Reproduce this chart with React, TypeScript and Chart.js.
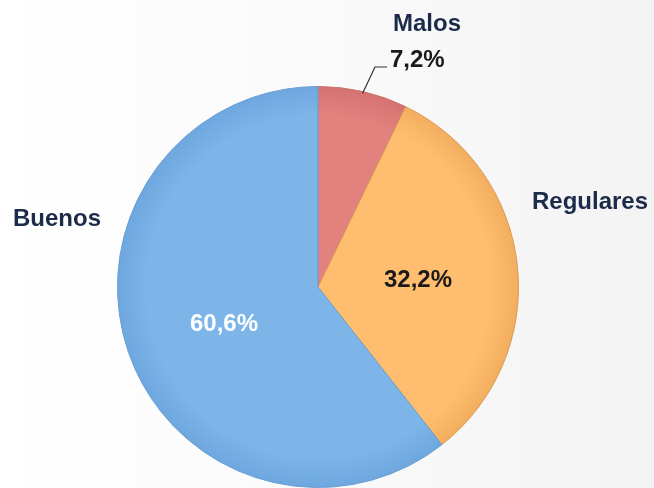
import React, { useEffect, useRef } from "react";
import { Chart, registerables } from "chart.js";

Chart.register(...registerables);

const categories = ["Malos", "Regulares", "Buenos"];
const values = [7.2, 32.2, 60.6];
const valueLabels = ["7,2%", "32,2%", "60,6%"];

const baseColors = ["#E2827F", "#FFBE6F", "#7DB5E9"];
const edgeColors = ["#D47270", "#F2AE5E", "#6EA7DE"];
const borderColors = ["#C9706C", "#D99B55", "#6A9FD3"];

// label layout (pixel offsets from the pie centre), alphabetic baseline
const nameLayout = [
  { dx: 75, dy: -256, align: "left" as CanvasTextAlign },
  { dx: 214, dy: -78, align: "left" as CanvasTextAlign },
  { dx: -305, dy: -61, align: "left" as CanvasTextAlign },
];
const valueLayout = [
  { dx: 72, dy: -220, align: "left" as CanvasTextAlign, color: "#1a1a1a" },
  { dx: 100, dy: 0, align: "center" as CanvasTextAlign, color: "#1a1a1a" },
  { dx: -94, dy: 44, align: "center" as CanvasTextAlign, color: "#ffffff" },
];

const labelPlugin = {
  id: "pieLabels",
  beforeDraw(chart: any) {
    const { ctx, width, height } = chart;
    ctx.save();
    ctx.fillStyle = "#ffffff";
    ctx.fillRect(0, 0, width, height);
    const g = ctx.createLinearGradient(0, 0, width, 0);
    g.addColorStop(0, "rgba(240,240,240,0)");
    g.addColorStop(1, "rgba(235,235,235,0.6)");
    ctx.fillStyle = g;
    ctx.fillRect(0, 0, width, height);
    ctx.restore();
  },
  afterDatasetsDraw(chart: any) {
    const { ctx } = chart;
    const meta = chart.getDatasetMeta(0);
    const arc0 = meta.data[0];
    if (!arc0) return;
    const cx = arc0.x;
    const cy = arc0.y;
    ctx.save();
    ctx.font = "bold 24px 'Liberation Sans', Arial, sans-serif";
    ctx.textBaseline = "alphabetic";
    categories.forEach((name, i) => {
      const l = nameLayout[i];
      ctx.fillStyle = "#1C2B4A";
      ctx.textAlign = l.align;
      ctx.fillText(name, cx + l.dx, cy + l.dy);
    });
    valueLabels.forEach((t, i) => {
      const l = valueLayout[i];
      ctx.fillStyle = l.color;
      ctx.textAlign = l.align;
      ctx.fillText(t, cx + l.dx, cy + l.dy);
    });
    // leader line for the small slice
    const a = meta.data[0];
    const mid = (a.startAngle + a.endAngle) / 2;
    const r = a.outerRadius;
    const px = cx + Math.cos(mid) * (r - 2);
    const py = cy + Math.sin(mid) * (r - 2);
    ctx.strokeStyle = "#333333";
    ctx.lineWidth = 1.2;
    ctx.beginPath();
    ctx.moveTo(px, py);
    ctx.lineTo(cx + 57, cy - 220);
    ctx.lineTo(cx + 69, cy - 220);
    ctx.stroke();
    ctx.restore();
  },
};

export default function App() {
  const ref = useRef<HTMLCanvasElement | null>(null);
  useEffect(() => {
    document.body.style.margin = "0";
    const canvas = ref.current;
    if (!canvas) return;
    const chart = new Chart(canvas, {
      type: "pie",
      data: {
        labels: categories,
        datasets: [
          {
            data: values,
            backgroundColor: (c: any) => {
              const i = c.dataIndex;
              const ch = c.chart;
              const area = ch.chartArea;
              if (!area) return baseColors[i];
              const x = (area.left + area.right) / 2;
              const y = (area.top + area.bottom) / 2;
              const rr = Math.min(area.right - area.left, area.bottom - area.top) / 2;
              const gr = ch.ctx.createRadialGradient(x, y, 0, x, y, rr);
              gr.addColorStop(0, baseColors[i]);
              gr.addColorStop(0.85, baseColors[i]);
              gr.addColorStop(1, edgeColors[i]);
              return gr;
            },
            borderColor: borderColors,
            borderWidth: 1,
          },
        ],
      },
      options: {
        responsive: false,
        animation: false,
        layout: { padding: { left: 117, right: 135, top: 86, bottom: 0 } },
        plugins: {
          legend: { display: false },
          tooltip: { enabled: false },
        },
      },
      plugins: [labelPlugin],
    });
    return () => chart.destroy();
  }, []);
  return (
    <div style={{ width: 654, height: 488 }}>
      <canvas ref={ref} width={654} height={488} style={{ display: "block" }} />
    </div>
  );
}
